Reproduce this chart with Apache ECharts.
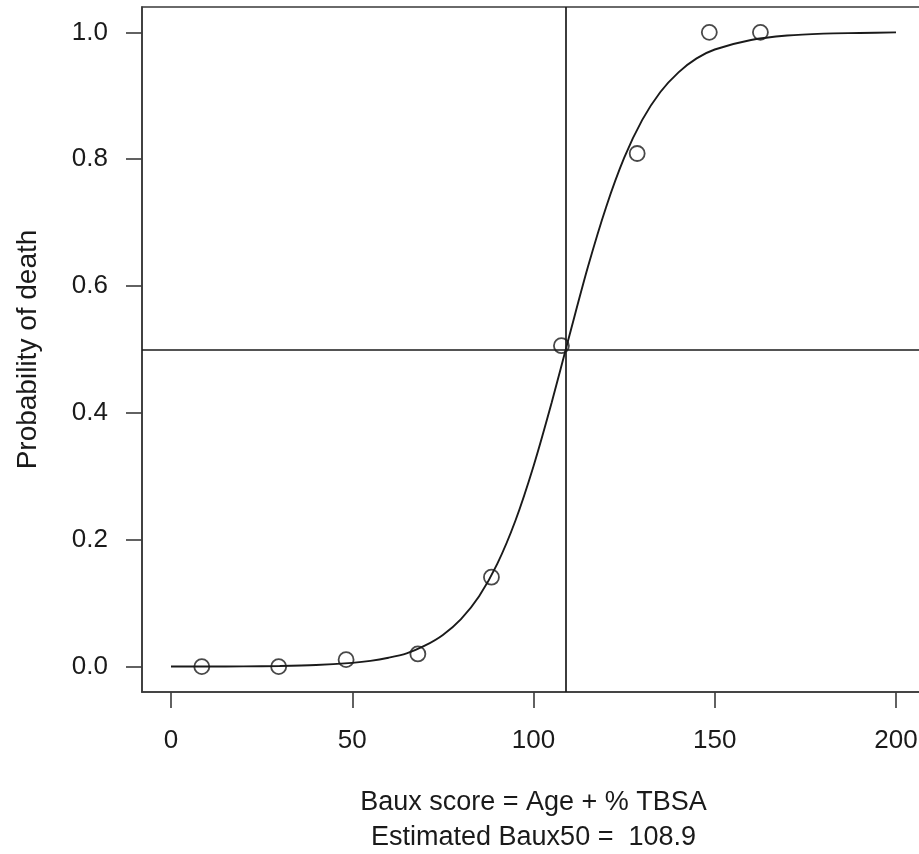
<!DOCTYPE html>
<html>
<head>
<meta charset="utf-8">
<script src="https://cdn.jsdelivr.net/npm/echarts@6/dist/echarts.min.js"></script>
<style>
html,body{margin:0;padding:0;background:#fff;}
#chart{width:919px;height:854px;}
</style>
</head>
<body>
<div id="chart"></div>
<script>
// Observed proportions (points)
const pointX = [8.5, 29.7, 48.3, 68.1, 88.4, 107.7, 128.6, 148.5, 162.6];
const pointY = [0.0, 0.0, 0.011, 0.020, 0.141, 0.506, 0.809, 1.0, 1.0];

// Fitted curve
const curveX = [0, 10, 20, 30, 40, 50, 55, 60, 65, 70, 75, 80, 85, 90, 95, 100, 105, 110, 115, 120, 125, 130, 135, 140, 145, 150, 160, 170, 180, 190, 200];
const curveY = [0.0001, 0.0002, 0.0004, 0.001, 0.0025, 0.006, 0.009, 0.014, 0.021, 0.033, 0.050, 0.075, 0.111, 0.162, 0.230, 0.316, 0.416, 0.524, 0.630, 0.724, 0.802, 0.862, 0.906, 0.937, 0.959, 0.973, 0.988, 0.995, 0.998, 0.999, 1.0];

const baux50 = 108.9;
const halfProb = 0.5;

const xTicks = [0, 50, 100, 150, 200];
const yTicks = [0.0, 0.2, 0.4, 0.6, 0.8, 1.0];
const yTickLabels = ['0.0', '0.2', '0.4', '0.6', '0.8', '1.0'];

const xTitle = 'Baux score = Age + % TBSA';
const xSubtitle = 'Estimated Baux50 =  108.9';
const yTitle = 'Probability of death';

const FONT = 'Liberation Sans, Arial, sans-serif';
const INK = '#1a1a1a';
const FRAME = '#3a3a3a';

const chart = echarts.init(document.getElementById('chart'), null, {renderer: 'canvas'});
chart.setOption({
  animation: false,
  backgroundColor: '#fff',
  grid: {
    left: 142, top: 7, width: 783, height: 685,
    outerBoundsMode: 'none', containLabel: false,
    show: true, borderColor: FRAME, borderWidth: 1.6, backgroundColor: 'transparent'
  },
  xAxis: {
    type: 'value', min: -8, max: 208,
    splitLine: {show: false},
    axisLine: {show: true, onZero: false, lineStyle: {color: FRAME, width: 1.6}},
    axisTick: {show: true, length: 16, customValues: xTicks, lineStyle: {color: FRAME, width: 1.6}},
    axisLabel: {
      customValues: xTicks, margin: 36, color: INK, fontSize: 26, fontFamily: FONT
    },
    name: xTitle + '\n' + xSubtitle,
    nameLocation: 'middle', nameGap: 93,
    nameTextStyle: {color: INK, fontSize: 27, fontFamily: FONT, lineHeight: 35, align: 'center'}
  },
  yAxis: {
    type: 'value', min: -0.04, max: 1.04,
    splitLine: {show: false},
    axisLine: {show: true, onZero: false, lineStyle: {color: FRAME, width: 1.6}},
    axisTick: {show: true, length: 16, customValues: yTicks, lineStyle: {color: FRAME, width: 1.6}},
    axisLabel: {
      customValues: yTicks, margin: 34, color: INK, fontSize: 26, fontFamily: FONT,
      formatter: function (v) {
        const i = yTicks.findIndex(t => Math.abs(t - v) < 1e-9);
        return i >= 0 ? yTickLabels[i] : '';
      }
    },
    name: yTitle, nameLocation: 'middle', nameGap: 100, nameRotate: 90,
    nameTextStyle: {color: INK, fontSize: 28, fontFamily: FONT}
  },
  series: [
    {
      type: 'line',
      data: curveX.map((x, i) => [x, curveY[i]]),
      smooth: 0.3,
      showSymbol: false,
      lineStyle: {color: INK, width: 1.9},
      z: 3,
      markLine: {
        silent: true, symbol: 'none', label: {show: false},
        lineStyle: {color: INK, width: 1.7, type: 'solid'},
        data: [{xAxis: baux50}, {yAxis: halfProb}]
      }
    },
    {
      type: 'scatter',
      data: pointX.map((x, i) => [x, pointY[i]]),
      symbol: 'circle', symbolSize: 15,
      itemStyle: {color: 'rgba(0,0,0,0)', borderColor: INK, borderWidth: 1.8},
      z: 4
    }
  ]
});
</script>
</body>
</html>
